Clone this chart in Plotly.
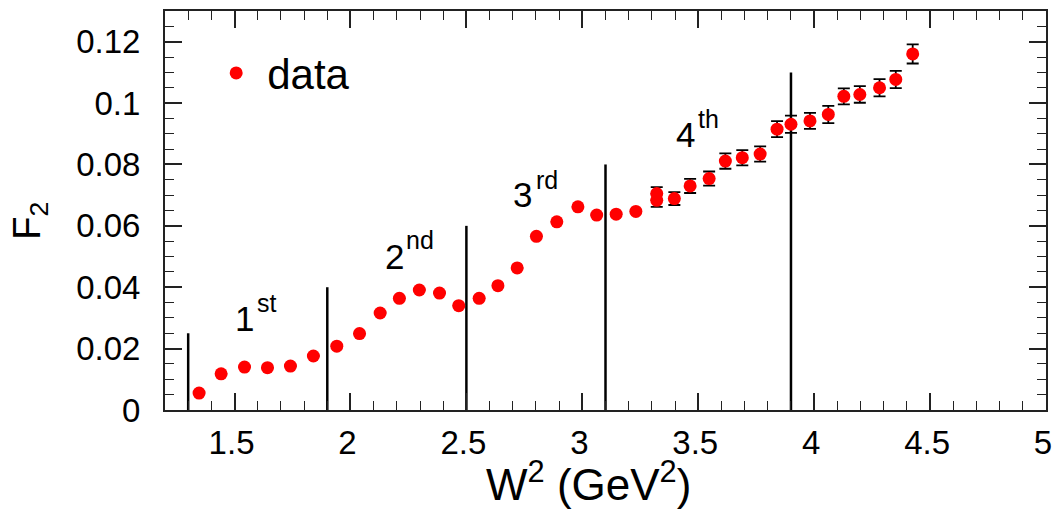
import plotly.graph_objects as go

# ---- data ----
w2 = [1.347, 1.442, 1.543, 1.642, 1.741, 1.840, 1.941, 2.039, 2.128, 2.211,
      2.297, 2.384, 2.467, 2.555, 2.636, 2.719, 2.802, 2.890, 2.981, 3.062,
      3.146, 3.231, 3.321, 3.321, 3.397, 3.465, 3.547, 3.617, 3.690, 3.767,
      3.840, 3.900, 3.982, 4.061, 4.128, 4.197, 4.282, 4.352, 4.425]
f2 = [0.0055, 0.0118, 0.0140, 0.0138, 0.0143, 0.0176, 0.0208, 0.0249, 0.0316, 0.0364,
      0.0391, 0.0381, 0.0340, 0.0364, 0.0405, 0.0463, 0.0566, 0.0613, 0.0662, 0.0635,
      0.0638, 0.0647, 0.0705, 0.0683, 0.0689, 0.0730, 0.0754, 0.0811, 0.0822, 0.0834,
      0.0915, 0.0931, 0.0942, 0.0963, 0.1022, 0.1028, 0.1050, 0.1077, 0.1160]
f2_err = [0.0] * 22 + [0.0021, 0.0021, 0.0021, 0.0023, 0.0023, 0.0025, 0.0025, 0.0025,
                       0.0026, 0.0028, 0.0026, 0.0028, 0.0026, 0.0027, 0.0028, 0.0028, 0.0031]

# resonance region boundaries and the heights of the marker lines
boundaries = [1.3, 1.9, 2.5, 3.1, 3.9]
boundary_heights = [0.025, 0.04, 0.06, 0.08, 0.11]

region_numbers = ["1", "2", "3", "4"]
region_suffixes = ["st", "nd", "rd", "th"]

x_ticks = [1.5, 2, 2.5, 3, 3.5, 4, 4.5, 5]
y_ticks = [0, 0.02, 0.04, 0.06, 0.08, 0.1, 0.12]

FONT = "Liberation Sans, Arial, Helvetica, sans-serif"

fig = go.Figure()

# vertical boundary lines
lx, ly = [], []
for b, h in zip(boundaries, boundary_heights):
    lx += [b, b, None]
    ly += [0, h, None]
fig.add_trace(go.Scatter(x=lx, y=ly, mode="lines",
                         line=dict(color="black", width=2.5),
                         showlegend=False, hoverinfo="skip"))

fig.add_trace(go.Scatter(
    x=w2, y=f2, mode="markers", name="data",
    marker=dict(color="#ff0000", size=13, line=dict(width=0)),
    error_y=dict(type="data", array=f2_err, visible=True,
                 color="black", thickness=1.8, width=6),
))

# region labels (layout annotations): number + raised suffix
num_pos = [(1.494, 0.0227), (2.141, 0.0429), (2.691, 0.0631), (3.394, 0.0827)]
suf_pos = [(1.589, 0.0297), (2.231, 0.0502), (2.792, 0.0698), (3.489, 0.0897)]
for n, s, (nx, ny), (sx, sy) in zip(region_numbers, region_suffixes, num_pos, suf_pos):
    fig.add_annotation(x=nx, y=ny, xref="x", yref="y", text=n, showarrow=False,
                       font=dict(family=FONT, size=35, color="black"),
                       xanchor="left", yanchor="bottom")
    fig.add_annotation(x=sx, y=sy, xref="x", yref="y", text=s, showarrow=False,
                       font=dict(family=FONT, size=25, color="black"),
                       xanchor="left", yanchor="bottom")

# axis titles
fig.add_annotation(x=0.481, y=-0.253, xref="paper", yref="paper",
                   text="W<sup>2</sup> (GeV<sup>2</sup>)", showarrow=False,
                   font=dict(family=FONT, size=44, color="black"),
                   xanchor="center", yanchor="bottom")
fig.add_annotation(x=-0.153, y=0.475, xref="paper", yref="paper",
                   text="F<sub>2</sub>", showarrow=False, textangle=-90,
                   font=dict(family=FONT, size=38, color="black"),
                   xanchor="center", yanchor="middle")

axis_common = dict(showline=True, linecolor="#222222", linewidth=2, mirror="ticks",
                   ticks="inside", ticklen=17, tickwidth=1.6, tickcolor="#222222",
                   showgrid=False, zeroline=False, automargin=False,
                   ticklabeloverflow="allow",
                   tickfont=dict(family=FONT, size=33, color="black"))

fig.update_xaxes(range=[1.2, 5.0], tickvals=x_ticks,
                 ticktext=[f"{v:g}" for v in x_ticks],
                 minor=dict(dtick=0.1, tick0=1.2, ticks="inside", ticklen=9,
                            tickwidth=1.4, tickcolor="#222222", showgrid=False),
                 ticklabelstandoff=2, ticklabelshift=-3, **axis_common)
fig.update_yaxes(range=[0, 0.13], tickvals=y_ticks,
                 ticktext=[f"{v:g}" for v in y_ticks],
                 minor=dict(dtick=0.005, tick0=0, ticks="inside", ticklen=9,
                            tickwidth=1.4, tickcolor="#222222", showgrid=False),
                 ticklabelstandoff=16, **axis_common)

fig.update_layout(
    width=1054, height=510, autosize=False,
    margin=dict(l=165, r=8, t=11, b=100),
    paper_bgcolor="white", plot_bgcolor="white",
    font=dict(family=FONT, color="black"),
    showlegend=True,
    legend=dict(x=0.0456, y=0.9295, xanchor="left", yanchor="top",
                bgcolor="rgba(0,0,0,0)", borderwidth=0,
                font=dict(family=FONT, size=42, color="black"),
                itemwidth=52),
)

fig.write_html("out.html")
